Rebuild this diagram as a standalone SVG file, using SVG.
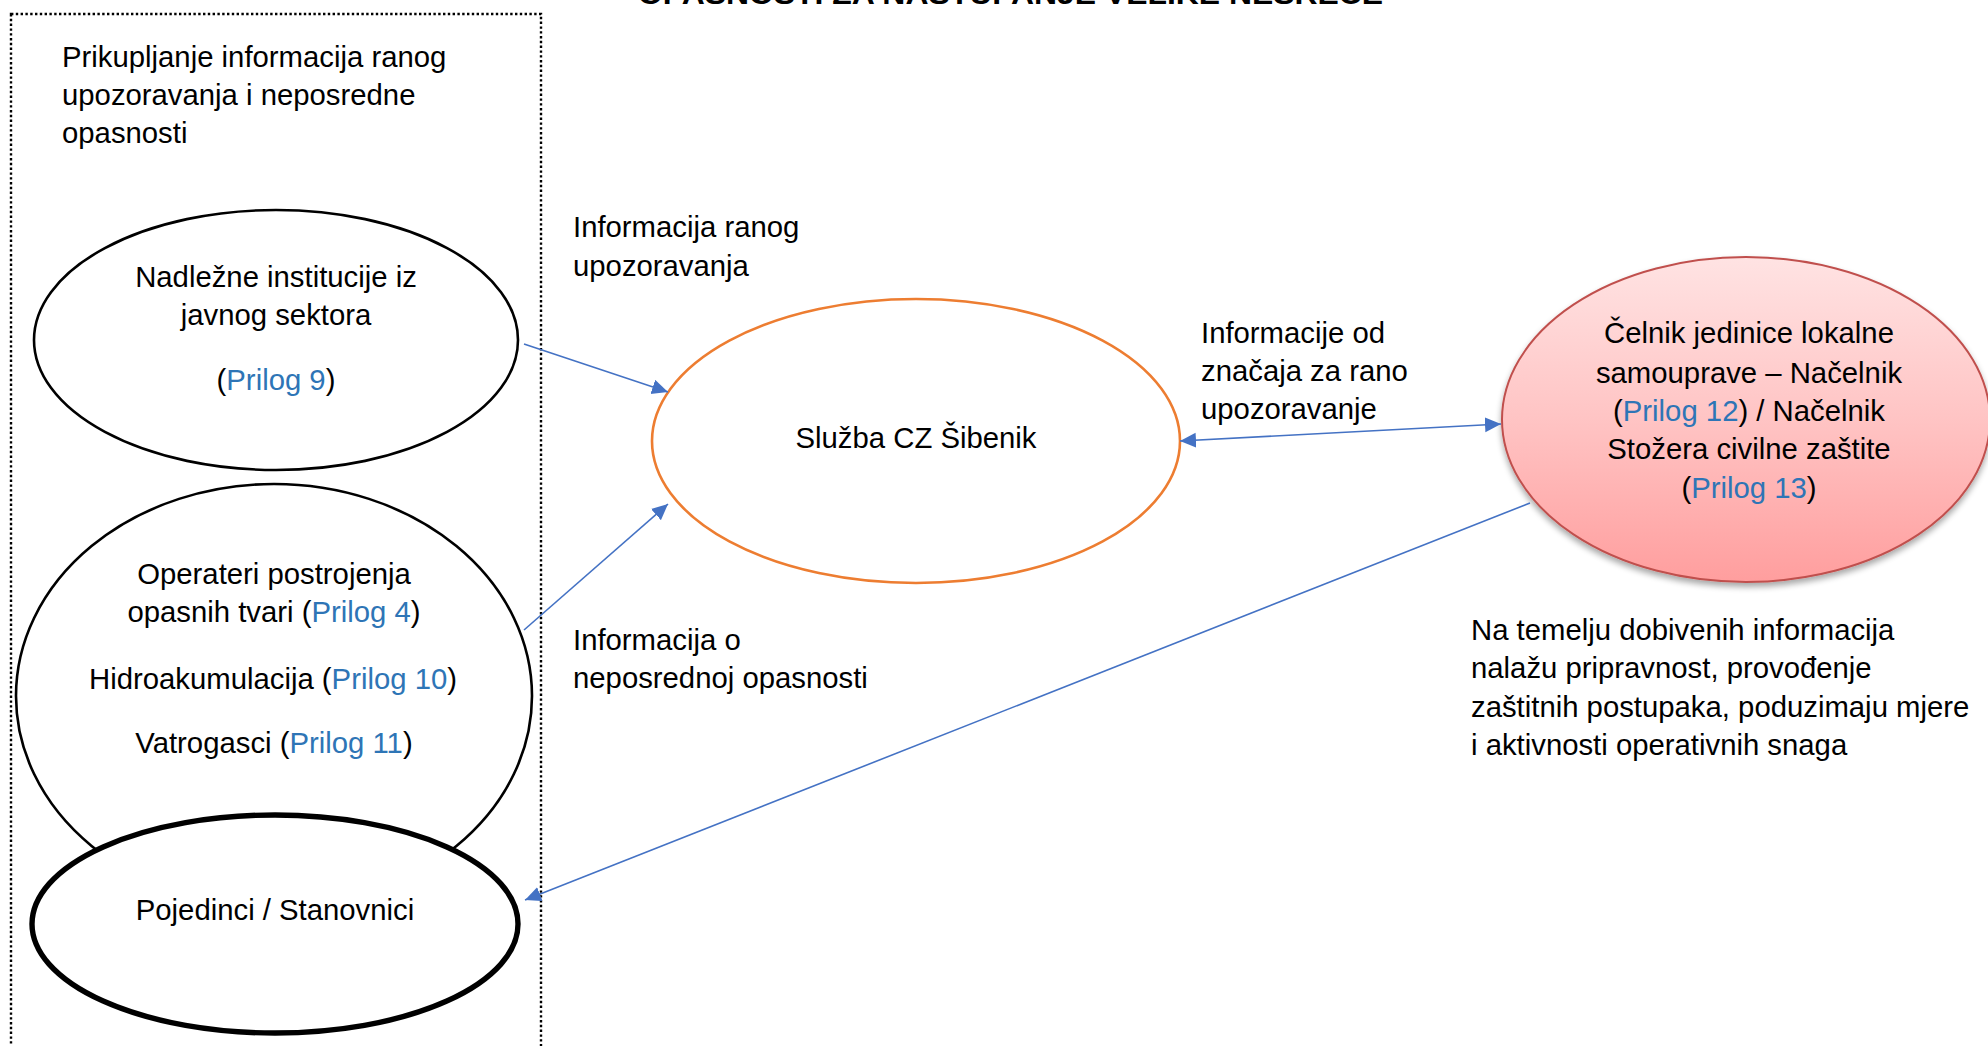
<svg xmlns="http://www.w3.org/2000/svg" width="1988" height="1046" viewBox="0 0 1988 1046">
<style>
text{font-family:"Liberation Sans",Arial,sans-serif;font-size:29.3px;fill:#000}
.c{text-anchor:middle}
.lnk{fill:#2E75B6}
.node{stroke:#000;stroke-width:2.6;fill:#fff}
.conn{stroke:#4472C4;stroke-width:1.6;fill:none}
</style>
<defs>
<marker id="ah" markerUnits="userSpaceOnUse" markerWidth="17" markerHeight="16" refX="16" refY="7.5" orient="auto-start-reverse">
<path d="M0,0 L16,7.5 L0,15 z" fill="#4472C4"/>
</marker>
<linearGradient id="redg" x1="0" y1="0" x2="0" y2="1">
<stop offset="0" stop-color="#FFE3E3"/>
<stop offset="0.5" stop-color="#FFC4C4"/>
<stop offset="1" stop-color="#FF9E9E"/>
</linearGradient>
<filter id="sh" x="-10%" y="-10%" width="120%" height="125%">
<feGaussianBlur in="SourceAlpha" stdDeviation="3"/>
<feOffset dx="0" dy="4" result="b"/>
<feComponentTransfer><feFuncA type="linear" slope="0.35"/></feComponentTransfer>
<feMerge><feMergeNode/><feMergeNode in="SourceGraphic"/></feMerge>
</filter>
</defs>
<rect width="1988" height="1046" fill="#fff"/>

<text x="638" y="4" font-weight="bold" textLength="745" lengthAdjust="spacingAndGlyphs" style="font-weight:bold">OPASNOSTI ZA NASTUPANJE VELIKE NESREĆE</text>

<g id="group-box">
<rect x="11" y="14" width="530" height="1060" fill="none" stroke="#000" stroke-width="2.4" stroke-dasharray="2.4 2.4"/>
<text x="62" y="67">Prikupljanje informacija ranog</text>
<text x="62" y="105">upozoravanja i neposredne</text>
<text x="62" y="143">opasnosti</text>
</g>

<g id="node-nadlezne">
<ellipse class="node" cx="276" cy="340" rx="242" ry="130"/>
<text class="c" x="276" y="287">Nadležne institucije iz</text>
<text class="c" x="276" y="325">javnog sektora</text>
<text class="c" x="276" y="390">(<tspan class="lnk">Prilog 9</tspan>)</text>
</g>

<g id="node-operateri">
<ellipse class="node" cx="274" cy="696" rx="258" ry="212"/>
<text class="c" x="274" y="584">Operateri postrojenja</text>
<text class="c" x="274" y="622">opasnih tvari (<tspan class="lnk">Prilog 4</tspan>)</text>
<text class="c" x="273" y="689">Hidroakumulacija (<tspan class="lnk">Prilog 10</tspan>)</text>
<text class="c" x="274" y="753">Vatrogasci (<tspan class="lnk">Prilog 11</tspan>)</text>
</g>

<g id="node-pojedinci">
<ellipse cx="275" cy="924" rx="243" ry="109" fill="#fff" stroke="#000" stroke-width="5.4"/>
<text class="c" x="275" y="920">Pojedinci / Stanovnici</text>
</g>

<g id="node-sluzba">
<ellipse cx="916" cy="441" rx="264" ry="142" fill="#fff" stroke="#ED7D31" stroke-width="2.6"/>
<text class="c" x="916" y="448">Služba CZ Šibenik</text>
</g>

<g id="node-celnik">
<ellipse cx="1746" cy="419.5" rx="244" ry="162.5" fill="url(#redg)" stroke="#C0504D" stroke-width="2" filter="url(#sh)"/>
<text class="c" x="1749" y="343">Čelnik jedinice lokalne</text>
<text class="c" x="1749" y="383">samouprave – Načelnik</text>
<text class="c" x="1749" y="421">(<tspan class="lnk">Prilog 12</tspan>) / Načelnik</text>
<text class="c" x="1749" y="459">Stožera civilne zaštite</text>
<text class="c" x="1749" y="498">(<tspan class="lnk">Prilog 13</tspan>)</text>
</g>

<g id="connectors">
<line class="conn" x1="524" y1="344" x2="668" y2="392" marker-end="url(#ah)"/>
<line class="conn" x1="524" y1="630" x2="668" y2="504" marker-end="url(#ah)"/>
<line class="conn" x1="1180" y1="441" x2="1501" y2="424" marker-start="url(#ah)" marker-end="url(#ah)"/>
<line class="conn" x1="1530" y1="503" x2="525" y2="900" marker-end="url(#ah)"/>
</g>

<g id="labels">
<text x="573" y="237">Informacija ranog</text>
<text x="573" y="276">upozoravanja</text>
<text x="573" y="650">Informacija o</text>
<text x="573" y="688">neposrednoj opasnosti</text>
<text x="1201" y="343">Informacije od</text>
<text x="1201" y="381">značaja za rano</text>
<text x="1201" y="419">upozoravanje</text>
<text x="1471" y="640">Na temelju dobivenih informacija</text>
<text x="1471" y="678">nalažu pripravnost, provođenje</text>
<text x="1471" y="717">zaštitnih postupaka, poduzimaju mjere</text>
<text x="1471" y="755">i aktivnosti operativnih snaga</text>
</g>
</svg>
